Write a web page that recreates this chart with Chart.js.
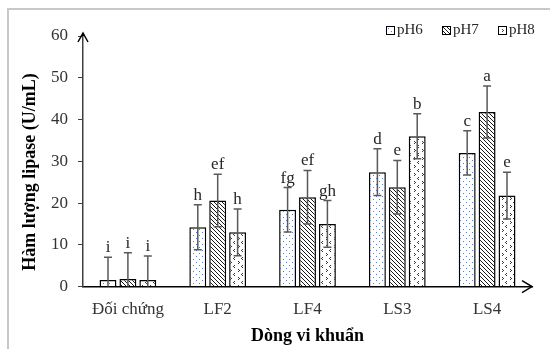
<!DOCTYPE html>
<html>
<head>
<meta charset="utf-8">
<script src="https://cdn.jsdelivr.net/npm/chart.js@4/dist/chart.umd.min.js"></script>
<style>
  body { margin: 0; background: #fff; }
  #wrap { position: relative; width: 550px; height: 349px; overflow: hidden; }
  #frame { position: absolute; left: 7px; top: 8px; width: 600px; height: 400px; border-left: 2px solid #c8c8c8; border-top: 2px solid #c8c8c8; }
</style>
</head>
<body>
<div id="wrap">
  <canvas id="chart" width="550" height="349"></canvas>
  <div id="frame"></div>
</div>
<script>
// số liệu
const strains = ['Đối chứng', 'LF2', 'LF4', 'LS3', 'LS4']
const seriesNames = ['pH6', 'pH7', 'pH8']
const pH6 = [1.6, 14.2, 18.4, 27.4, 32.0]
const pH7 = [1.8, 20.6, 21.4, 23.8, 41.8]
const pH8 = [1.6, 13.0, 15.0, 36.0, 21.8]
const errPH6 = [5.4, 5.4, 5.3, 5.6, 5.3]
const errPH7 = [6.3, 6.3, 6.4, 6.4, 6.2]
const errPH8 = [5.7, 5.6, 5.6, 5.4, 5.6]
const lettersPH6 = ['i', 'h', 'fg', 'd', 'c']
const lettersPH7 = ['i', 'ef', 'ef', 'e', 'a']
const lettersPH8 = ['i', 'h', 'gh', 'b', 'e']
const yTicks = [0, 10, 20, 30, 40, 50, 60]

const serif = '"Liberation Serif", "Times New Roman", serif'

// hoa văn cho cột
const makePattern = (size, paint) => {
    let c = document.createElement('canvas')
    c.width = size
    c.height = size
    let g = c.getContext('2d')
    g.fillStyle = '#fff'
    g.fillRect(0, 0, size, size)
    paint(g)
    return document.createElement('canvas').getContext('2d').createPattern(c, 'repeat')
}

const dotsPattern = makePattern(6, g => {
    g.fillStyle = '#5b7fc7'
    g.fillRect(1, 1, 1, 1)
    g.fillRect(4, 4, 1, 1)
})

const hatchPattern = makePattern(4, g => {
    g.strokeStyle = '#1a1a1a'
    g.lineWidth = 1
    g.beginPath()
    g.moveTo(-1, -1); g.lineTo(5, 5)
    g.moveTo(3, -1); g.lineTo(5, 1)
    g.moveTo(-1, 3); g.lineTo(1, 5)
    g.stroke()
})

const chevronPattern = makePattern(8, g => {
    g.fillStyle = '#3a3a3a'
    g.fillRect(2, 1, 1, 1)
    g.fillRect(1, 2, 1, 1)
    g.fillRect(2, 3, 1, 1)
    g.fillRect(6, 5, 1, 1)
    g.fillRect(7, 6, 1, 1)
    g.fillRect(6, 7, 1, 1)
})

const patterns = [dotsPattern, hatchPattern, chevronPattern]
const values = [pH6, pH7, pH8]
const errors = [errPH6, errPH7, errPH8]
const letters = [lettersPH6, lettersPH7, lettersPH8]

// thanh sai số + chữ cái
const errorBarPlugin = {
    id: 'errorBars',
    afterDatasetsDraw(chart) {
        const ctx = chart.ctx
        const y = chart.scales.y
        ctx.save()
        chart.data.datasets.forEach((ds, i) => {
            const meta = chart.getDatasetMeta(i)
            meta.data.forEach((bar, j) => {
                const v = ds.data[j]
                const e = errors[i][j]
                const yTop = y.getPixelForValue(v + e)
                const yBot = y.getPixelForValue(Math.max(v - e, 0))
                ctx.strokeStyle = '#595959'
                ctx.lineWidth = 1.5
                ctx.beginPath()
                ctx.moveTo(bar.x, yBot); ctx.lineTo(bar.x, yTop)
                ctx.moveTo(bar.x - 4, yTop); ctx.lineTo(bar.x + 4, yTop)
                if (v - e > 0) {
                    ctx.moveTo(bar.x - 4, yBot); ctx.lineTo(bar.x + 4, yBot)
                }
                ctx.stroke()
                ctx.fillStyle = '#262626'
                ctx.font = '17px ' + serif
                ctx.textAlign = 'center'
                ctx.textBaseline = 'alphabetic'
                ctx.fillText(letters[i][j], bar.x, yTop - 5)
            })
        })
        ctx.restore()
    }
}

// mũi tên trục, tiêu đề trục tung, chú giải
const decorPlugin = {
    id: 'decor',
    afterDraw(chart) {
        const ctx = chart.ctx
        const a = chart.chartArea
        ctx.save()
        ctx.strokeStyle = '#000'
        ctx.lineWidth = 1.5
        ctx.beginPath()
        ctx.moveTo(a.left, a.top); ctx.lineTo(a.left, a.top - 3)
        ctx.moveTo(a.left - 5, a.top + 6); ctx.lineTo(a.left, a.top - 3); ctx.lineTo(a.left + 5, a.top + 6)
        ctx.moveTo(a.right - 10, a.bottom - 6); ctx.lineTo(a.right, a.bottom); ctx.lineTo(a.right - 10, a.bottom + 6)
        ctx.stroke()

        ctx.fillStyle = '#000'
        ctx.font = 'bold 18px ' + serif
        ctx.textAlign = 'center'
        ctx.textBaseline = 'middle'
        ctx.translate(30, 172)
        ctx.rotate(-Math.PI / 2)
        ctx.fillText('Hàm lượng lipase (U/mL)', 0, 0)
        ctx.setTransform(1, 0, 0, 1, 0, 0)

        ctx.font = '15px ' + serif
        ctx.textAlign = 'left'
        seriesNames.forEach((name, i) => {
            const x = 386 + i * 56
            ctx.fillStyle = patterns[i]
            ctx.fillRect(x, 26, 8, 8)
            ctx.strokeStyle = '#000'
            ctx.lineWidth = 1
            ctx.strokeRect(x + 0.5, 26.5, 8, 8)
            ctx.fillStyle = '#262626'
            ctx.fillText(name, x + 11, 30.5)
        })
        ctx.restore()
    }
}

new Chart(document.getElementById('chart'), {
    type: 'bar',
    data: {
        labels: strains,
        datasets: seriesNames.map((name, i) => ({
            label: name,
            data: values[i],
            backgroundColor: patterns[i],
            borderColor: '#000',
            borderWidth: 1.5,
            borderSkipped: 'bottom',
            categoryPercentage: 0.665,
            barPercentage: 0.85
        }))
    },
    options: {
        responsive: false,
        animation: false,
        layout: { padding: { left: 41, right: 18, top: 36, bottom: 0 } },
        plugins: {
            legend: { display: false },
            tooltip: { enabled: false }
        },
        scales: {
            x: {
                grid: { display: false, drawTicks: false },
                border: { color: '#000', width: 1.5 },
                ticks: { color: '#333', font: { family: serif, size: 17 }, padding: 13 },
                title: {
                    display: true,
                    text: 'Dòng vi khuẩn',
                    color: '#000',
                    font: { family: serif, size: 18, weight: 'bold' },
                    padding: { top: -7.8, bottom: 2.2 }
                }
            },
            y: {
                min: 0,
                max: 60,
                afterBuildTicks: axis => { axis.ticks = yTicks.map(v => ({ value: v })) },
                grid: { drawOnChartArea: false, drawTicks: true, tickLength: 5, color: '#404040' },
                border: { color: '#404040', width: 1.5 },
                ticks: { color: '#333', font: { family: serif, size: 17 }, padding: 10 }
            }
        }
    },
    plugins: [errorBarPlugin, decorPlugin]
})
</script>
</body>
</html>
